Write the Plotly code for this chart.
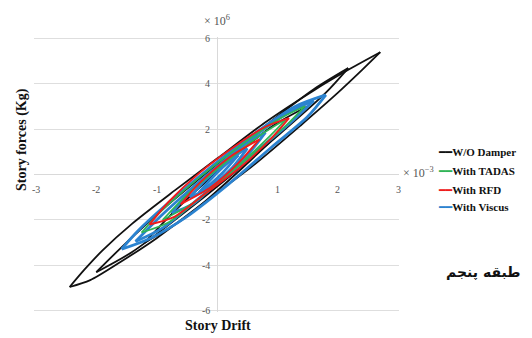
import plotly.graph_objects as go

# ---------------- data (drift x10^-3, force x10^6 kg) ----------------
BLACK_X = [-2.44, -2.2, -1.9, -1.4, -0.7, 0.0, 0.8, 1.6, 2.2, 2.70, None,
           2.70, 2.4, 2.0, 1.4, 0.6, -0.2, -1.0, -1.6, -2.1, -2.44, None,
           -2.0, -1.6, -0.8, 0.0, 0.8, 1.6, 2.17, None,
           2.17, 1.8, 1.0, 0.2, -0.6, -1.4, -2.0, None,
           -1.2, -0.7, 0.1, 0.9, 1.5, None,
           1.5, 1.1, 0.3, -0.5, -1.2]
BLACK_Y = [-4.95, -4.2, -3.35, -2.15, -0.7, 0.7, 2.3, 3.7, 4.65, 5.38, None,
           5.38, 4.6, 3.6, 2.2, 0.4, -1.2, -2.8, -3.85, -4.65, -4.95, None,
           -4.3, -3.25, -1.3, 0.45, 2.15, 3.75, 4.68, None,
           4.68, 3.6, 1.7, -0.1, -1.8, -3.4, -4.3, None,
           -3.0, -1.6, 0.35, 2.1, 3.0, None,
           3.0, 2.0, 0.0, -1.85, -3.0]

BLUE_X = [-1.58, -1.3, -0.7, 0.0, 0.7, 1.3, 1.80, None,
          1.80, 1.5, 0.9, 0.2, -0.5, -1.1, -1.58, None,
          -1.35, -0.9, -0.2, 0.6, 1.2, 1.6, None,
          1.6, 1.2, 0.5, -0.3, -0.9, -1.35, None,
          -0.75, -0.4, 0.1, 0.5, 0.8, None,
          0.8, 0.5, 0.0, -0.4, -0.75, None,
          -0.45, -0.2, 0.2, 0.5, None,
          0.5, 0.25, -0.15, -0.45, None,
          -0.3, -0.1, 0.15, 0.35, None,
          0.35, 0.1, -0.1, -0.3]
BLUE_Y = [-3.28, -2.45, -1.0, 0.55, 1.95, 3.0, 3.50, None,
          3.50, 2.55, 1.2, -0.4, -1.85, -2.8, -3.28, None,
          -2.95, -1.75, -0.1, 1.65, 2.75, 3.25, None,
          3.25, 2.25, 0.7, -1.05, -2.35, -2.95, None,
          -1.7, -0.6, 0.55, 1.4, 1.85, None,
          1.85, 0.85, -0.35, -1.3, -1.7, None,
          -1.0, -0.25, 0.65, 1.15, None,
          1.15, 0.3, -0.6, -1.0, None,
          -0.8, -0.2, 0.45, 0.85, None,
          0.85, 0.1, -0.4, -0.8]

GREEN_X = [-1.25, -0.9, -0.3, 0.4, 1.0, 1.45, None,
           1.45, 1.1, 0.5, -0.2, -0.8, -1.25, None,
           -0.9, -0.5, 0.1, 0.7, 1.15, None,
           1.15, 0.8, 0.2, -0.4, -0.9]
GREEN_Y = [-2.55, -1.55, -0.15, 1.3, 2.4, 3.0, None,
           3.0, 2.05, 0.7, -0.85, -2.1, -2.55, None,
           -2.0, -0.9, 0.45, 1.7, 2.45, None,
           2.45, 1.5, 0.05, -1.25, -2.0]

RED_X = [-1.12, -0.8, -0.3, 0.3, 0.8, 1.19, None,
         1.19, 0.9, 0.4, -0.2, -0.7, -1.12, None,
         -0.6, -0.3, 0.2, 0.7, None,
         0.7, 0.35, -0.1, -0.6]
RED_Y = [-2.2, -1.2, 0.05, 1.25, 2.1, 2.48, None,
         2.48, 1.6, 0.35, -0.85, -1.85, -2.2, None,
         -1.3, -0.4, 0.75, 1.55, None,
         1.55, 0.5, -0.55, -1.3]

SERIES_NAMES = ["W/O Damper", "With TADAS", "With RFD", "With Viscus"]
X_TICKS = [-3, -2, -1, 1, 2, 3]
Y_TICKS = [6, 4, 2, -2, -4, -6]

# ---------------- styles ----------------
C_BLACK, C_GREEN, C_RED, C_BLUE = "#111111", "#2fb457", "#ee1c1c", "#2b83d0"
SERIF = "Liberation Serif"
W, H = 532, 338
ML, MR, MT, MB = 34, 133, 37, 26
PW, PH = W - ML - MR, H - MT - MB

fig = go.Figure()
for xs, ys, col, w, name in [
    (BLACK_X, BLACK_Y, C_BLACK, 1.8, SERIES_NAMES[0]),
    (BLUE_X, BLUE_Y, C_BLUE, 2.8, SERIES_NAMES[3]),
    (GREEN_X, GREEN_Y, C_GREEN, 1.7, SERIES_NAMES[1]),
    (RED_X, RED_Y, C_RED, 1.9, SERIES_NAMES[2]),
]:
    fig.add_trace(go.Scatter(x=xs, y=ys, mode="lines", name=name,
                             line=dict(color=col, width=w, shape="spline", smoothing=0.8),
                             showlegend=False, hoverinfo="skip"))

fig.update_layout(
    width=W, height=H,
    margin=dict(l=ML, r=MR, t=MT, b=MB),
    paper_bgcolor="white", plot_bgcolor="white",
    xaxis=dict(range=[-3.03, 3.01], showgrid=False, zeroline=True,
               zerolinecolor="#d9d9d9", zerolinewidth=1.2,
               showticklabels=False, ticks="", showline=False, fixedrange=True),
    yaxis=dict(range=[-6.05, 6.05], tickvals=[-6, -4, -2, 0, 2, 4, 6], showgrid=True,
               gridcolor="#dedede", gridwidth=1.2, zeroline=True,
               zerolinecolor="#d9d9d9", zerolinewidth=1.2,
               showticklabels=False, ticks="", showline=False, fixedrange=True),
)

tick_font = dict(family=SERIF, size=10, color="#555555")
for t in X_TICKS:
    fig.add_annotation(x=t, y=0, xref="x", yref="y", text=str(t), showarrow=False,
                       font=tick_font, yshift=-15, xanchor="center", yanchor="middle")
for t in Y_TICKS:
    fig.add_annotation(x=0, y=t, xref="x", yref="y", text=str(t), showarrow=False,
                       font=tick_font, xshift=-5, xanchor="right", yanchor="middle")

fig.add_annotation(x=0, y=6, xref="x", yref="y", text="× 10<sup>6</sup>", showarrow=False,
                   font=dict(family=SERIF, size=12, color="#555555"),
                   yshift=18, xanchor="center", yanchor="middle")
fig.add_annotation(x=3.01, y=0, xref="x", yref="y", text="× 10<sup>−3</sup>", showarrow=False,
                   font=dict(family=SERIF, size=12, color="#555555"),
                   xshift=2, yshift=2, xanchor="left", yanchor="middle")

def px(xp):
    return (xp - ML) / PW

def py(yp):
    return (H - MB - yp) / PH

fig.add_annotation(x=px(22), y=py(140), xref="paper", yref="paper", text="<b>Story forces (Kg)</b>",
                   showarrow=False, textangle=-90,
                   font=dict(family=SERIF, size=14, color="#111111"),
                   xanchor="center", yanchor="middle")
fig.add_annotation(x=px(218), y=py(325), xref="paper", yref="paper", text="<b>Story Drift</b>",
                   showarrow=False, font=dict(family=SERIF, size=14, color="#111111"),
                   xanchor="center", yanchor="middle")

# legend built from text: a coloured heavy bar followed by the series name
legend_cols = [C_BLACK, C_GREEN, C_RED, C_BLUE]
legend_py = [152, 171, 190, 207]
for name, col, yp in zip(SERIES_NAMES, legend_cols, legend_py):
    fig.add_annotation(x=px(436), y=py(yp), xref="paper", yref="paper",
                       text=(f'<span style="color:{col};font-family:DejaVu Sans">━━</span>'
                             f'<b>{name}</b>'),
                       showarrow=False, font=dict(family=SERIF, size=11, color="#111111"),
                       xanchor="left", yanchor="middle")

fig.add_annotation(x=px(483), y=py(272), xref="paper", yref="paper",
                   text="<b>طبقه پنجم</b>", showarrow=False,
                   font=dict(family="DejaVu Sans", size=14, color="#111111"),
                   xanchor="center", yanchor="middle")

fig.write_html("out.html", config={"displayModeBar": False},
               post_script="document.body.style.margin='0';document.body.style.overflow='hidden';")
